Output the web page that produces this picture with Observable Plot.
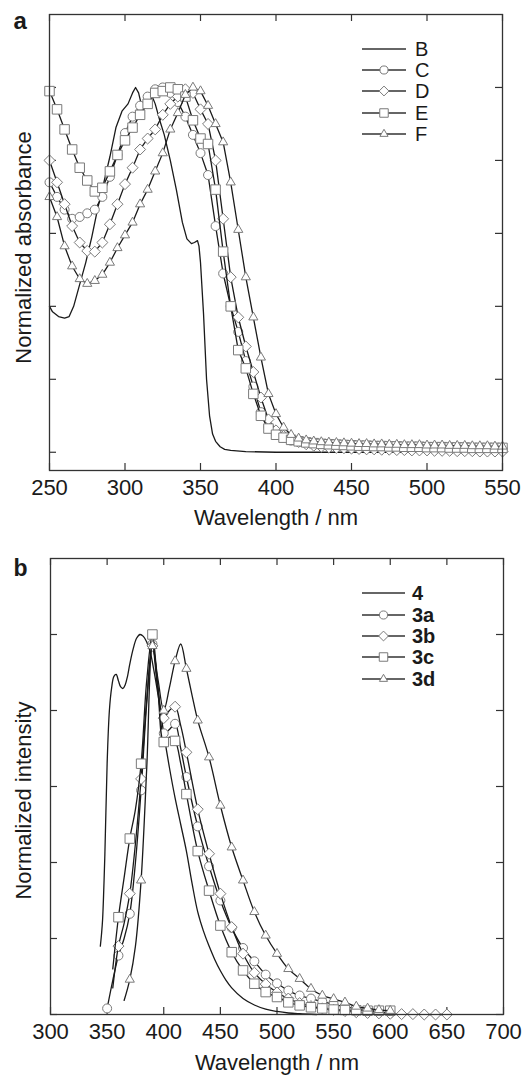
<!DOCTYPE html>
<html><head><meta charset="utf-8">
<script src="https://cdn.jsdelivr.net/npm/d3@7"></script>
<script src="https://cdn.jsdelivr.net/npm/@observablehq/plot@0.6"></script>
<style>
html,body{margin:0;padding:0;background:#fff;}
#wrap{position:relative;width:526px;height:1076px;}
.panel{position:relative;width:526px;}
.panel svg.legend{position:absolute;left:0;top:0;pointer-events:none;}
</style></head><body><div id="wrap"></div>
<script>
// ---------- Panel a: absorbance ----------
const ticksXA = [250, 300, 350, 400, 450, 500, 550];
const ticksYA = [0, 0.2, 0.4, 0.6, 0.8, 1.0];
const seriesA = ["B", "C", "D", "E", "F"];

const wlAB = [250, 252, 256, 260, 263, 266, 270, 274, 278, 282, 286, 290, 294, 298, 302, 305, 307, 309, 311, 313, 316, 318, 320, 323, 326, 330, 334, 338, 341, 344, 346, 348, 349, 350, 352, 354, 356, 358, 360, 363, 366, 370, 380, 400, 450, 500, 550];
const absB = [0.40, 0.385, 0.372, 0.368, 0.372, 0.40, 0.46, 0.52, 0.59, 0.67, 0.74, 0.81, 0.89, 0.935, 0.955, 0.985, 1.0, 0.985, 0.95, 0.955, 0.985, 0.975, 0.955, 0.91, 0.87, 0.80, 0.72, 0.63, 0.585, 0.572, 0.575, 0.58, 0.565, 0.52, 0.38, 0.20, 0.10, 0.05, 0.03, 0.015, 0.008, 0.005, 0.002, 0.0, 0.0, 0.0, 0.0];

const wlA = [250, 255, 260, 265, 270, 275, 280, 285, 290, 295, 300, 305, 310, 315, 320, 325, 330, 335, 340, 345, 350, 355, 360, 365, 370, 375, 380, 385, 390, 395, 400, 405, 410, 415, 420, 425, 430, 435, 440, 445, 450, 455, 460, 465, 470, 475, 480, 485, 490, 495, 500, 505, 510, 515, 520, 525, 530, 535, 540, 545, 550];
const absC = [0.74, 0.70, 0.665, 0.64, 0.645, 0.655, 0.665, 0.70, 0.755, 0.815, 0.875, 0.92, 0.95, 0.975, 0.995, 1.0, 0.985, 0.96, 0.92, 0.87, 0.82, 0.76, 0.62, 0.49, 0.40, 0.33, 0.25, 0.18, 0.11, 0.07, 0.05, 0.04, 0.032, 0.028, 0.025, 0.023, 0.021, 0.02, 0.019, 0.018, 0.017, 0.016, 0.016, 0.015, 0.015, 0.014, 0.014, 0.013, 0.013, 0.013, 0.012, 0.012, 0.012, 0.011, 0.011, 0.011, 0.01, 0.01, 0.01, 0.01, 0.01];
const absD = [0.80, 0.74, 0.68, 0.62, 0.575, 0.552, 0.55, 0.575, 0.625, 0.68, 0.735, 0.78, 0.83, 0.86, 0.885, 0.925, 0.955, 0.975, 0.995, 0.985, 0.94, 0.90, 0.80, 0.64, 0.48, 0.37, 0.29, 0.22, 0.15, 0.09, 0.06, 0.045, 0.035, 0.028, 0.022, 0.018, 0.015, 0.013, 0.012, 0.011, 0.01, 0.009, 0.008, 0.008, 0.007, 0.007, 0.006, 0.006, 0.005, 0.005, 0.005, 0.004, 0.004, 0.004, 0.003, 0.003, 0.003, 0.002, 0.002, 0.002, 0.002];
const absE = [0.99, 0.94, 0.885, 0.83, 0.78, 0.745, 0.715, 0.725, 0.77, 0.815, 0.855, 0.89, 0.925, 0.955, 0.985, 0.99, 1.0, 0.995, 0.975, 0.91, 0.86, 0.845, 0.72, 0.55, 0.40, 0.28, 0.23, 0.16, 0.10, 0.065, 0.048, 0.04, 0.034, 0.03, 0.027, 0.025, 0.023, 0.022, 0.021, 0.02, 0.019, 0.018, 0.018, 0.017, 0.017, 0.016, 0.016, 0.015, 0.015, 0.015, 0.014, 0.014, 0.014, 0.013, 0.013, 0.013, 0.012, 0.012, 0.012, 0.012, 0.012];
const absF = [0.70, 0.645, 0.565, 0.51, 0.475, 0.462, 0.47, 0.487, 0.52, 0.56, 0.595, 0.63, 0.68, 0.72, 0.77, 0.82, 0.885, 0.93, 0.98, 1.0, 0.99, 0.95, 0.90, 0.85, 0.74, 0.61, 0.48, 0.37, 0.26, 0.16, 0.105, 0.068, 0.048, 0.038, 0.033, 0.03, 0.028, 0.027, 0.026, 0.025, 0.024, 0.023, 0.023, 0.022, 0.022, 0.021, 0.021, 0.02, 0.02, 0.02, 0.019, 0.019, 0.019, 0.018, 0.018, 0.018, 0.017, 0.017, 0.017, 0.016, 0.016];

// ---------- Panel b: emission ----------
const ticksXB = [300, 350, 400, 450, 500, 550, 600, 650, 700];
const ticksYB = [0, 0.2, 0.4, 0.6, 0.8, 1.0];
const seriesB = ["4", "3a", "3b", "3c", "3d"];

const wl4 = [344, 345, 346, 348, 350, 352, 354, 356, 358, 360, 362, 364, 366, 368, 370, 373, 376, 379, 382, 385, 388, 391, 395, 400, 405, 410, 415, 420, 425, 430, 435, 440, 445, 450, 455, 460, 470, 480, 490, 500, 510, 520, 535];
const int4 = [0.18, 0.21, 0.25, 0.42, 0.66, 0.80, 0.86, 0.89, 0.895, 0.878, 0.862, 0.858, 0.868, 0.89, 0.922, 0.962, 0.99, 1.0, 0.995, 0.98, 0.955, 0.91, 0.84, 0.74, 0.65, 0.57, 0.50, 0.43, 0.345, 0.27, 0.22, 0.18, 0.145, 0.115, 0.09, 0.07, 0.042, 0.025, 0.014, 0.008, 0.004, 0.002, 0.0];

const wl3a = [350, 355, 360, 365, 370, 375, 380, 385, 390, 395, 400, 405, 410, 415, 420, 430, 440, 450, 460, 470, 480, 490, 500, 510, 520, 530, 540, 550, 560, 570, 580, 590, 600];
const int3a = [0.016, 0.09, 0.155, 0.2, 0.265, 0.40, 0.59, 0.82, 0.975, 0.86, 0.74, 0.75, 0.765, 0.70, 0.625, 0.495, 0.39, 0.30, 0.228, 0.175, 0.14, 0.105, 0.082, 0.063, 0.05, 0.042, 0.034, 0.027, 0.02, 0.015, 0.01, 0.006, 0.004];

const wl3b = [355, 360, 365, 370, 375, 380, 385, 390, 395, 400, 405, 410, 415, 420, 430, 440, 450, 460, 470, 480, 490, 500, 510, 520, 530, 540, 550, 560, 570, 580, 590, 600, 610, 620, 630, 640, 650];
const int3b = [0.07, 0.18, 0.24, 0.318, 0.45, 0.62, 0.83, 0.97, 0.85, 0.78, 0.80, 0.81, 0.76, 0.69, 0.54, 0.423, 0.318, 0.23, 0.16, 0.11, 0.08, 0.058, 0.042, 0.03, 0.022, 0.016, 0.012, 0.009, 0.006, 0.004, 0.003, 0.002, 0.001, 0.001, 0.0, 0.0, 0.0];

const wl3c = [355, 360, 365, 370, 375, 380, 385, 390, 395, 400, 405, 410, 415, 420, 430, 440, 450, 460, 470, 480, 490, 500, 510, 520, 530, 540, 550, 560, 570, 580, 590, 600];
const int3c = [0.12, 0.256, 0.36, 0.463, 0.54, 0.66, 0.88, 1.0, 0.85, 0.717, 0.73, 0.72, 0.66, 0.58, 0.43, 0.326, 0.234, 0.164, 0.116, 0.081, 0.059, 0.046, 0.032, 0.024, 0.019, 0.016, 0.013, 0.012, 0.011, 0.01, 0.01, 0.01];

const wl3d = [365, 370, 375, 380, 385, 390, 395, 400, 405, 410, 415, 420, 425, 430, 440, 450, 460, 470, 480, 490, 500, 510, 520, 530, 540, 550, 560, 570, 580, 590, 600];
const int3d = [0.037, 0.092, 0.18, 0.353, 0.65, 0.97, 0.88, 0.80, 0.86, 0.93, 0.975, 0.91, 0.84, 0.774, 0.677, 0.55, 0.44, 0.353, 0.27, 0.208, 0.16, 0.12, 0.094, 0.068, 0.05, 0.041, 0.032, 0.021, 0.016, 0.012, 0.01];

// ---------- styling ----------
const FONT = "'Liberation Sans', Arial, Helvetica, sans-serif";
const INK = "#1a1a1a";
const FRAME = "#333";
const MSTROKE = "#7a7a7a";
const SYM = {
  circle: {plot: "circle", r: 4.5, d3: d3.symbolCircle, size: 64},
  diamond: {plot: "diamond2", r: 4.95, d3: d3.symbolDiamond2, size: 77},
  square: {plot: "square", r: 5.35, d3: d3.symbolSquare, size: 90},
  triangle: {plot: "triangle", r: 3.4, d3: d3.symbolTriangle, size: 36}
};
const markerOf = [null, "circle", "diamond", "square", "triangle"];

const rows = (xs, ys) => xs.map((x, i) => ({x, y: ys[i]}));

function frameTicks(xt, yt, fw, fh, len) {
  const st = {stroke: FRAME, strokeWidth: 1.2};
  return [
    Plot.tickX(xt, {x: d => d, insetTop: fh - len, ...st}),
    Plot.tickX(xt, {x: d => d, insetBottom: fh - len, ...st}),
    Plot.tickY(yt, {y: d => d, insetRight: fw - len, ...st}),
    Plot.tickY(yt, {y: d => d, insetLeft: fw - len, ...st})
  ];
}

function seriesMarks(data, sym, curve, markerFilter) {
  const s = SYM[sym];
  const out = [Plot.line(data, {x: "x", y: "y", stroke: INK, strokeWidth: 1.3, curve})];
  if (s) out.push(Plot.dot(markerFilter ? data.filter(markerFilter) : data,
    {x: "x", y: "y", symbol: () => s.plot, r: s.r, fill: "white", stroke: MSTROKE, strokeWidth: 1}));
  return out;
}

function legend(container, names, rowsY, x1, x2, labelX, h, bold) {
  const svg = d3.select(container).append("svg").attr("class", "legend")
    .attr("width", 526).attr("height", h);
  names.forEach((name, i) => {
    const y = rowsY[i];
    svg.append("line").attr("x1", x1).attr("x2", x2).attr("y1", y).attr("y2", y)
      .attr("stroke", "#333").attr("stroke-width", 1.4);
    const m = markerOf[i];
    if (m) {
      const s = SYM[m];
      svg.append("path").attr("d", d3.symbol(s.d3, s.size * 0.8)())
        .attr("transform", `translate(${(x1 + x2) / 2},${y})`)
        .attr("fill", "white").attr("stroke", MSTROKE).attr("stroke-width", 1);
    }
    svg.append("text").attr("x", labelX).attr("y", y).attr("dy", "0.36em")
      .attr("font-family", FONT).attr("font-size", 20)
      .attr("font-weight", bold ? "bold" : "normal").attr("fill", INK).text(name);
  });
}

const wrap = document.getElementById("wrap");

// ---- Panel a ----
{
  const W = 526, H = 535, mt = 14, mr = 24, mb = 65, ml = 49;
  const fw = W - ml - mr, fh = H - mt - mb;
  const dataSets = [rows(wlAB, absB), rows(wlA, absC), rows(wlA, absD), rows(wlA, absE), rows(wlA, absF)];
  const marks = [
    ...frameTicks(ticksXA, ticksYA, fw, fh, 7),
    Plot.axisX({ticks: ticksXA, tickSize: 0, tickPadding: 9, label: null, fontSize: 22, fill: INK}),
  ];
  dataSets.forEach((d, i) => marks.push(...seriesMarks(d, markerOf[i], "linear", null)));
  marks.push(
    Plot.frame({stroke: FRAME, strokeWidth: 1.3}),
    Plot.text(["Wavelength / nm"], {frameAnchor: "bottom", dy: 47, lineAnchor: "middle", textAnchor: "middle", fontSize: 22, fill: INK}),
    Plot.text(["Normalized absorbance"], {frameAnchor: "left", dx: -26, dy: 5, rotate: -90, textAnchor: "middle", lineAnchor: "middle", fontSize: 22, fill: INK}),
    Plot.text(["a"], {frameAnchor: "top-left", dx: -36, dy: -3, fontSize: 24, fontWeight: "bold", fill: INK})
  );
  const p = Plot.plot({
    width: W, height: H, marginTop: mt, marginRight: mr, marginBottom: mb, marginLeft: ml,
    x: {domain: [250, 550]},
    y: {domain: [-0.05, 1.2], axis: null},
    style: {fontFamily: FONT, fontSize: "22px", color: INK, background: "white", overflow: "visible"},
    marks
  });
  const div = document.createElement("div");
  div.className = "panel"; div.style.height = H + "px";
  div.appendChild(p);
  wrap.appendChild(div);
  legend(div, seriesA, [49, 70, 91, 113, 134], 362, 406, 415, H, false);
}

// ---- Panel b ----
{
  const W = 526, H = 541, mt = 23, mr = 23, mb = 62, ml = 50;
  const fw = W - ml - mr, fh = H - mt - mb;
  const dataSets = [rows(wl4, int4), rows(wl3a, int3a), rows(wl3b, int3b), rows(wl3c, int3c), rows(wl3d, int3d)];
  const marks = [
    ...frameTicks(ticksXB, ticksYB, fw, fh, 7),
    Plot.axisX({ticks: ticksXB, tickSize: 0, tickPadding: 9, label: null, fontSize: 22, fill: INK}),
  ];
  dataSets.forEach((d, i) => marks.push(...seriesMarks(d, markerOf[i], "catmull-rom", r => r.x % 10 === 0)));
  marks.push(
    Plot.frame({stroke: FRAME, strokeWidth: 1.3}),
    Plot.text(["Wavelength / nm"], {frameAnchor: "bottom", dy: 48, lineAnchor: "middle", textAnchor: "middle", fontSize: 22, fill: INK}),
    Plot.text(["Normalized intensity"], {frameAnchor: "left", dx: -27, dy: 14, rotate: -90, textAnchor: "middle", lineAnchor: "middle", fontSize: 22, fill: INK}),
    Plot.text(["b"], {frameAnchor: "top-left", dx: -37, dy: 1, fontSize: 23, fontWeight: "bold", fill: INK})
  );
  const p = Plot.plot({
    width: W, height: H, marginTop: mt, marginRight: mr, marginBottom: mb, marginLeft: ml,
    x: {domain: [300, 700]},
    y: {domain: [0, 1.2], axis: null},
    style: {fontFamily: FONT, fontSize: "22px", color: INK, background: "white", overflow: "visible"},
    marks
  });
  const div = document.createElement("div");
  div.className = "panel"; div.style.height = H + "px";
  div.appendChild(p);
  wrap.appendChild(div);
  legend(div, seriesB, [58, 80, 101, 122, 144], 362, 405, 412, H, true);
}
</script></body></html>
